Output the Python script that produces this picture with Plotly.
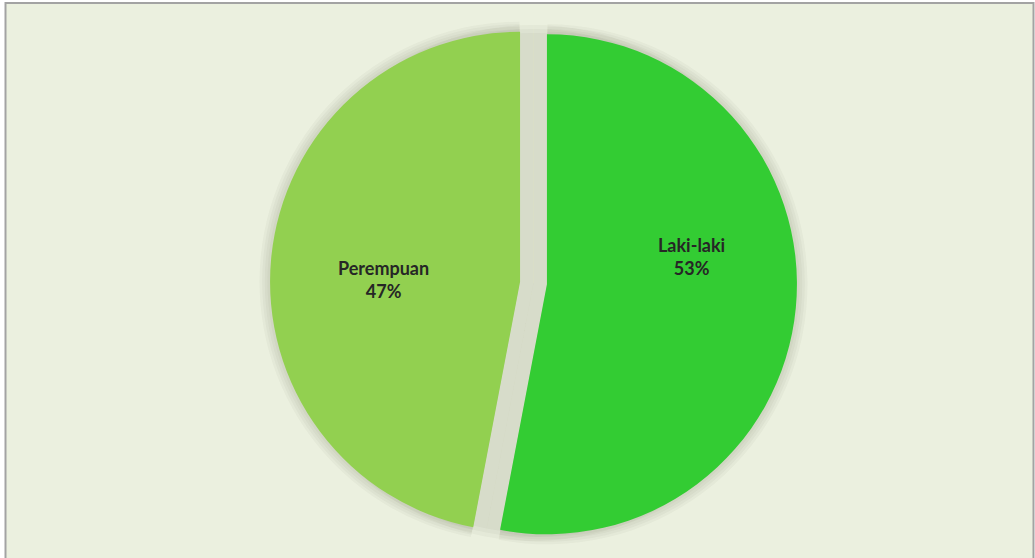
import plotly.graph_objects as go

# Gender split
labels = ["Laki-laki", "Perempuan"]
values = [53, 47]
colors = ["#33CC33", "#92D050"]

# label anchor points (paper fractions) for the two slice captions
label_x = [691 / 1035, 383 / 1035]
label_y = [1 - 256 / 558, 1 - 279 / 558]

W, H = 1035, 558
PULL = 0.054
R = 250          # pie radius in px
CX, CY = 533.5, 283.0   # pie centre in px (from top-left)


def domain_for(radius, pull):
    """Paper-fraction domain that gives a pie of the wanted pixel radius."""
    half = radius * (1 + pull)
    clamp = lambda v: min(1.0, max(0.0, v))
    return dict(
        x=[clamp((CX - half) / W), clamp((CX + half) / W)],
        y=[clamp(1 - (CY + half) / H), clamp(1 - (CY - half) / H)],
    )


fig = go.Figure()

# soft drop shadow built from faint grey copies of the pie
for k in [10, 7.5, 5, 2.5]:
    fig.add_trace(go.Pie(
        labels=labels, values=values, sort=False, direction="clockwise",
        rotation=0, pull=[PULL] * len(values),
        domain=domain_for(R + k, PULL),
        marker=dict(colors=["rgba(60,70,40,0.035)"] * len(values), line=dict(width=0)),
        textinfo="none", hoverinfo="skip", showlegend=False,
    ))
for k in [8, 4, 0]:
    fig.add_trace(go.Pie(
        labels=labels, values=values, sort=False, direction="clockwise",
        rotation=0, pull=0,
        domain=domain_for(R + k, 0),
        marker=dict(colors=["rgba(60,70,40,0.035)"] * len(values), line=dict(width=0)),
        textinfo="none", hoverinfo="skip", showlegend=False,
    ))

# main pie
fig.add_trace(go.Pie(
    labels=labels, values=values, sort=False, direction="clockwise",
    rotation=0, pull=[PULL] * len(values),
    domain=domain_for(R, PULL),
    marker=dict(colors=colors, line=dict(width=0)),
    textinfo="none",
    hoverinfo="label+percent", showlegend=False,
))

# slice captions: name and share
total = sum(values)
for lab, val, lx, ly in zip(labels, values, label_x, label_y):
    fig.add_annotation(
        x=lx, y=ly, xref="paper", yref="paper",
        text=f"<b>{lab}</b><br><b>{round(100 * val / total)}%</b>",
        showarrow=False, xanchor="center", yanchor="middle",
        font=dict(family="Lato", size=18, color="#262626"),
    )

# chart area frame
fig.add_shape(
    type="rect", xref="paper", yref="paper", layer="below",
    x0=5.5 / W, x1=(W - 1.5) / W, y0=-0.05, y1=1 - 3 / H,
    line=dict(color="#A3A3A3", width=2), fillcolor="#EBF0DF",
)

fig.update_layout(
    width=W, height=H,
    margin=dict(l=0, r=0, t=0, b=0),
    paper_bgcolor="#FFFFFF",
    showlegend=False,
)

fig.write_html("out.html")
